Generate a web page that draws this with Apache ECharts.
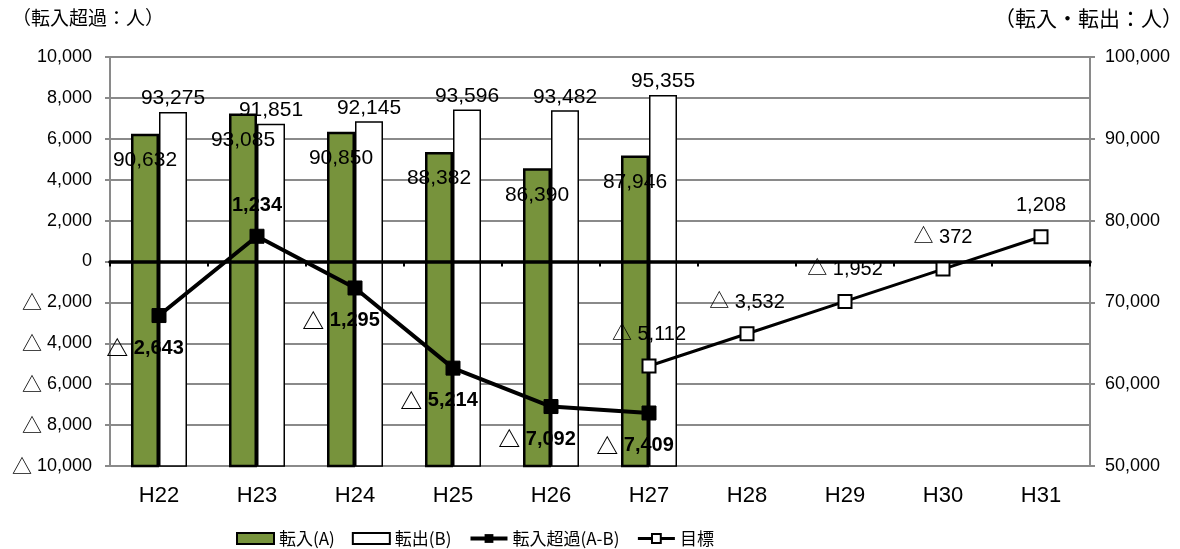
<!DOCTYPE html>
<html>
<head>
<meta charset="utf-8">
<script src="https://cdn.jsdelivr.net/npm/echarts@6/dist/echarts.min.js"></script>
<style>
  html, body { margin: 0; padding: 0; background: #fff; }
  #chart { width: 1180px; height: 549px; }
</style>
</head>
<body>
<div id="chart"></div>
<script>
// 年度
const categories = ['H22', 'H23', 'H24', 'H25', 'H26', 'H27', 'H28', 'H29', 'H30', 'H31'];
// 転入（A）・転出（B）：人
const moveIn  = [90632, 93085, 90850, 88382, 86390, 87946, null, null, null, null];
const moveOut = [93275, 91851, 92145, 93596, 93482, 95355, null, null, null, null];
// 転入超過（A−B）：人
const netIn   = [-2643, 1234, -1295, -5214, -7092, -7409, null, null, null, null];
// 目標：人
const target  = [null, null, null, null, null, -5112, -3532, -1952, -372, 1208];

const FONT = '"Liberation Sans", Arial, "Noto Sans CJK JP", sans-serif';
const CJK = '"Noto Sans CJK JP", sans-serif';
const GRID_GRAY = '#8a8a8a';

const fmt = v => Math.abs(v).toLocaleString('en-US');
// 負の値は「△」を付けて表示（大きい三角はリッチテキストで描く）
const signedRich = v => (v < 0 ? '{t|△} ' : '') + fmt(v);
const signedPlain = v => (v < 0 ? '△ ' : '') + fmt(v);

const chart = echarts.init(document.getElementById('chart'), null, { renderer: 'canvas' });

chart.setOption({
  backgroundColor: '#fff',
  animation: false,
  textStyle: { fontFamily: FONT, color: '#000' },
  grid: { left: 110, right: 90, top: 57, bottom: 83, containLabel: false },
  graphic: [
    { type: 'text', left: 12, top: 8,
      style: { text: '（転入超過：人）', font: '19px "Noto Sans CJK JP", sans-serif', fill: '#000' } },
    { type: 'text', right: -3, top: 8,
      style: { text: '（転入・転出：人）', font: '21px "Noto Sans CJK JP", sans-serif', fill: '#000' } }
  ],
  legend: {
    top: 525,
    left: 231,
    itemWidth: 37,
    itemHeight: 11,
    itemGap: 17,
    textStyle: { fontFamily: CJK, fontSize: 17, color: '#000' },
    data: [
      { name: '転入(A)', icon: 'rect' },
      { name: '転出(B)', icon: 'rect' },
      { name: '転入超過(A-B)', lineStyle: { width: 4 } },
      { name: '目標', lineStyle: { width: 3 } }
    ]
  },
  xAxis: [
    {
      type: 'category',
      data: categories,
      position: 'bottom',
      axisLine: { show: false, onZero: false },
      axisTick: { show: false },
      axisLabel: { fontSize: 22, color: '#000', margin: 19, fontFamily: FONT },
      splitLine: { show: false }
    },
    {
      // 0人の基準線
      type: 'category',
      data: categories,
      position: 'bottom',
      z: 3,
      axisLine: { show: true, onZero: true, onZeroAxisIndex: 0, lineStyle: { color: '#000', width: 3.5 } },
      axisTick: { show: true, length: 5, lineStyle: { color: '#000', width: 2 } },
      axisLabel: { show: false },
      splitLine: { show: false }
    }
  ],
  yAxis: [
    {
      type: 'value',
      min: -10000,
      max: 10000,
      interval: 2000,
      position: 'left',
      axisLine: { show: true, lineStyle: { color: GRID_GRAY, width: 2 } },
      axisTick: { show: true, length: 5, lineStyle: { color: GRID_GRAY, width: 2 } },
      axisLabel: {
        fontSize: 18, color: '#000', margin: 18,
        formatter: v => signedRich(v),
        rich: { t: { fontFamily: CJK, fontSize: 20, color: '#000' } }
      },
      splitLine: { show: true, lineStyle: { color: GRID_GRAY, width: 2 } }
    },
    {
      type: 'value',
      min: 50000,
      max: 100000,
      interval: 10000,
      position: 'right',
      axisLine: { show: true, lineStyle: { color: GRID_GRAY, width: 2 } },
      axisTick: { show: true, length: 5, lineStyle: { color: GRID_GRAY, width: 2 } },
      axisLabel: { fontSize: 18, color: '#000', margin: 15, formatter: v => fmt(v) },
      splitLine: { show: false }
    }
  ],
  series: [
    {
      name: '転入(A)',
      type: 'bar',
      xAxisIndex: 0,
      yAxisIndex: 1,
      data: moveIn,
      barWidth: 28,
      barGap: '0%',
      itemStyle: { color: '#77933C', borderColor: '#000', borderWidth: 2.5 },
      label: {
        show: true, position: 'insideTop', distance: 16,
        fontSize: 21, color: '#000', fontFamily: FONT,
        formatter: p => fmt(p.value)
      }
    },
    {
      name: '転出(B)',
      type: 'bar',
      xAxisIndex: 0,
      yAxisIndex: 1,
      data: moveOut,
      barWidth: 28,
      barGap: '0%',
      itemStyle: { color: '#fff', borderColor: '#000', borderWidth: 1.5 },
      label: {
        show: true, position: 'top', distance: 3,
        fontSize: 21, color: '#000', fontFamily: FONT,
        formatter: p => fmt(p.value)
      }
    },
    {
      name: '転入超過(A-B)',
      type: 'line',
      xAxisIndex: 0,
      yAxisIndex: 0,
      z: 5,
      symbol: 'rect',
      symbolSize: 14,
      lineStyle: { color: '#000', width: 4 },
      itemStyle: { color: '#000', borderColor: '#000' },
      label: {
        show: true,
        fontSize: 20, fontWeight: 'bold', color: '#000', fontFamily: FONT,
        formatter: p => signedRich(p.value),
        rich: { t: { fontFamily: CJK, fontSize: 22, fontWeight: 'bold', color: '#000' } }
      },
      data: netIn.map(v => (v === null ? null : {
        value: v,
        label: v < 0
          ? { position: 'bottom', distance: 14, offset: [-14, 0] }
          : { position: 'top', distance: 13 }
      }))
    },
    {
      name: '目標',
      type: 'line',
      xAxisIndex: 0,
      yAxisIndex: 0,
      z: 5,
      data: target,
      symbol: 'rect',
      symbolSize: 13,
      lineStyle: { color: '#000', width: 3 },
      itemStyle: { color: '#fff', borderColor: '#000', borderWidth: 2 },
      label: {
        show: true, position: 'top', distance: 14,
        fontSize: 20, color: '#000', fontFamily: FONT,
        formatter: p => signedPlain(p.value)
      }
    }
  ]
});
</script>
</body>
</html>
